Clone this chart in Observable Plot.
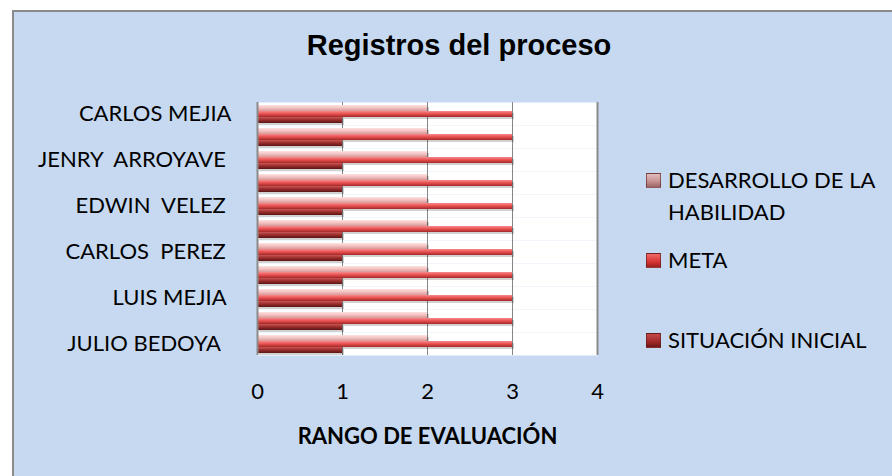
<!DOCTYPE html>
<html>
<head>
<meta charset="utf-8">
<script src="https://cdn.jsdelivr.net/npm/d3@7"></script>
<script src="https://cdn.jsdelivr.net/npm/@observablehq/plot@0.6"></script>
<style>
  body { margin: 0; background: #ffffff; }
  #chart { position: relative; width: 892px; height: 476px; overflow: hidden; font-family: Lato, "Open Sans", sans-serif; }
  #panel { position: absolute; left: 12px; top: 10px; width: 900px; height: 480px; background: #c6d9f1;
           border-left: 2px solid #8a8a8a; border-top: 2px solid #8a8a8a; }
  #title { position: absolute; left: 0; top: 31px; width: 918px; text-align: center;
           font-family: "Liberation Sans", Arial, sans-serif; font-weight: bold; font-size: 29px; line-height: 29px; color: #000; }
  #plot { position: absolute; left: 0; top: 0; }
  #plot svg text { white-space: pre; }
  #plot svg [aria-label="x-axis label"] text { font-weight: bold; }
  .leg { position: absolute; left: 646px; font-size: 22px; line-height: 32px; color: #000; }
  .leg .sw { position: absolute; left: 0; top: 9px; width: 15px; height: 15px; box-sizing: border-box; }
  .leg .tx { position: absolute; left: 22px; top: 0; width: 225px; white-space: normal; }
</style>
</head>
<body>
<div id="chart">
  <div id="panel"></div>
  <div id="title"></div>
  <div id="plot"></div>
  <div id="legend"></div>
</div>
<script>
// ---- data ----
const title = "Registros del proceso";
const axisTitle = "RANGO DE EVALUACIÓN";
const series = ["DESARROLLO DE LA HABILIDAD", "META", "SITUACIÓN INICIAL"];
// rows numbered from the bottom of the chart to the top
const rows = [1, 2, 3, 4, 5, 6, 7, 8, 9, 10, 11];
// tick labels as displayed (every other row is unlabeled in the original)
const rowLabels = ["JULIO BEDOYA  ", "", "LUIS MEJIA ", "", "CARLOS  PEREZ ", "",
                   "EDWIN  VELEZ ", "", "JENRY  ARROYAVE ", "", "CARLOS MEJIA"];
const desarrollo = [2, 2, 2, 2, 2, 2, 2, 2, 2, 2, 2];
const meta       = [3, 3, 3, 3, 3, 3, 3, 3, 3, 3, 3];
const situacion  = [1, 1, 1, 1, 1, 1, 1, 1, 1, 1, 1];
const xTicks = [0, 1, 2, 3, 4];
const gridTicks = [1, 2, 3];
const edgeTicks = [0, 4];

// ---- styles ----
const gradients = [
  [["0", "#fde2e2"], ["0.5", "#f4c0c0"], ["1", "#d79696"]],
  [["0", "#f68c8c"], ["0.45", "#eb5252"], ["1", "#a32828"]],
  [["0", "#c95656"], ["0.45", "#9e2f2f"], ["1", "#5a1414"]]
];
const swatches = [
  "linear-gradient(#e2bcbc, #c48e8e 60%, #9c6464)",
  "linear-gradient(#ee6a6a, #d83434 60%, #9e2020)",
  "linear-gradient(#c44a4a, #a02828 60%, #6e1616)"
];

const table = rows.flatMap((r, i) => [
  {row: r, serie: series[0], value: desarrollo[i]},
  {row: r, serie: series[1], value: meta[i]},
  {row: r, serie: series[2], value: situacion[i]}
]);

document.getElementById("title").textContent = title;

const chart = Plot.plot({
  width: 892,
  height: 476,
  marginLeft: 257,
  marginRight: 295,
  marginTop: 97,
  marginBottom: 116,
  style: {background: "transparent", fontFamily: "Lato, 'Open Sans', sans-serif", fontSize: "22px", color: "#000", overflow: "visible"},
  x: {domain: [0, 4]},
  y: {domain: series, axis: null, paddingInner: 0, paddingOuter: 0.4},
  fy: {domain: rows.slice().reverse(), padding: 0, axis: "left", tickSize: 0, tickPadding: 26,
       tickFormat: r => rowLabels[r - 1], label: null},
  marks: [
    Plot.frame({fill: "white", stroke: "none"}),
    Plot.ruleX(gridTicks, {stroke: "#868686", strokeWidth: 1}),
    Plot.barX(table, {x: "value", y: "serie", fy: "row", dx: 2, dy: 2, fill: "#000", fillOpacity: 0.18}),
    ...series.map((s, k) => Plot.barX(table.filter(d => d.serie === s),
      {x: "value", y: "serie", fy: "row", fill: `url(#grad${k})`})),
    Plot.ruleX(edgeTicks, {stroke: "#8a8a8a", strokeWidth: 2}),
    Plot.axisX({ticks: xTicks, tickFormat: d => String(d), tickSize: 0, tickPadding: 28,
      line: true, stroke: "#8a8a8a", strokeWidth: 2,
      label: axisTitle, labelArrow: "none", labelAnchor: "center", labelOffset: 88})
  ]
});

// gradient definitions for the bars
const ns = "http://www.w3.org/2000/svg";
const defs = document.createElementNS(ns, "defs");
gradients.forEach((stops, k) => {
  const g = document.createElementNS(ns, "linearGradient");
  g.setAttribute("id", `grad${k}`);
  g.setAttribute("x1", "0"); g.setAttribute("y1", "0");
  g.setAttribute("x2", "0"); g.setAttribute("y2", "1");
  stops.forEach(([o, c]) => {
    const st = document.createElementNS(ns, "stop");
    st.setAttribute("offset", o);
    st.setAttribute("stop-color", c);
    g.appendChild(st);
  });
  defs.appendChild(g);
});
chart.insertBefore(defs, chart.firstChild);
document.getElementById("plot").appendChild(chart);

// legend
const legendTops = [163.5, 243.5, 323.5];
const legend = document.getElementById("legend");
series.forEach((s, k) => {
  const e = document.createElement("div");
  e.className = "leg";
  e.style.top = legendTops[k] + "px";
  const sw = document.createElement("div");
  sw.className = "sw";
  sw.style.background = swatches[k];
  sw.style.border = "1px solid rgba(90,30,30,0.6)";
  const tx = document.createElement("div");
  tx.className = "tx";
  tx.textContent = s;
  e.appendChild(sw); e.appendChild(tx);
  legend.appendChild(e);
});
</script>
</body>
</html>
